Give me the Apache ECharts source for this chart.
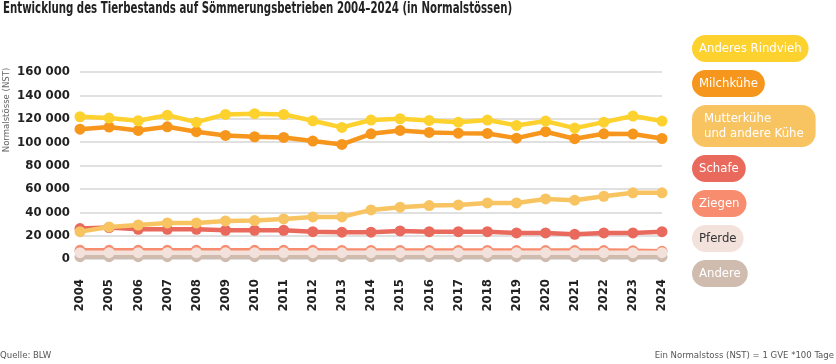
<!DOCTYPE html>
<html>
<head>
<meta charset="utf-8">
<script src="https://cdn.jsdelivr.net/npm/echarts@6/dist/echarts.min.js"></script>
<style>
html,body{margin:0;padding:0;background:#fff;}
#chart{width:836px;height:364px;}
</style>
</head>
<body>
<div id="chart"></div>
<script>
const years = ['2004','2005','2006','2007','2008','2009','2010','2011','2012','2013','2014','2015','2016','2017','2018','2019','2020','2021','2022','2023','2024'];
const anderesRindvieh = [121700,120600,118300,123100,117100,123700,124300,123700,118300,112600,118900,120000,118600,117100,118900,114300,118000,112000,117100,122300,118000];
const milchkuehe = [111100,112900,110000,113100,108900,105700,104600,104000,100900,98000,107100,110000,108300,107700,107400,103400,108900,102900,107100,106900,103100];
const mutterkuehe = [23400,27400,29100,30900,30900,32600,32900,34300,36000,36000,42000,44300,45700,46300,48000,48000,51400,50300,53700,56600,56600];
const schafe = [26000,26900,25400,25400,25400,24600,24600,24600,23400,22900,22900,24000,23400,23400,23400,22300,22300,21100,22300,22300,23400];
const ziegen = [7400,7400,7400,7400,7400,7400,7400,7400,7400,7300,7300,7300,7300,7300,7300,7200,7200,7200,7200,7100,6600];
const pferde = [5400,5400,5400,5400,5400,5400,5400,5400,5400,5400,5400,5400,5400,5400,5400,5400,5400,5400,5400,5400,5400];
const andere = [2000,2000,2000,2000,2000,2000,2000,2000,2000,2000,2000,2000,2000,2000,2000,2000,2000,2000,2000,2000,2000];
const yTicks = [0,20000,40000,60000,80000,100000,120000,140000,160000];

const seriesNames = ['Anderes Rindvieh','Milchkühe','Mutterkühe und andere Kühe','Schafe','Ziegen','Pferde','Andere'];
const seriesData = [anderesRindvieh, milchkuehe, mutterkuehe, schafe, ziegen, pferde, andere];
const colors = ['#fdd12e','#f7961c','#f8c462','#e96a5d','#f88c6e','#f3e1db','#cfbcaf'];
const legendTextColors = ['#fff','#fff','#fff','#fff','#fff','#333','#fff'];
const zOrder = [16,15,14,13,11,12,10];

const FONT = '"DejaVu Sans Condensed","DejaVu Sans",sans-serif';

const chart = echarts.init(document.getElementById('chart'), null, {renderer:'canvas'});

const series = seriesNames.map((n, i) => ({
  name: n,
  type: 'line',
  data: seriesData[i],
  symbol: 'circle',
  symbolSize: 11,
  showSymbol: true,
  lineStyle: {width: 4.5, color: colors[i]},
  itemStyle: {color: colors[i]},
  z: zOrder[i],
  animation: false
}));

const legendData = seriesNames.map((n, i) => ({
  name: n,
  icon: 'none',
  textStyle: {
    color: legendTextColors[i],
    backgroundColor: colors[i],
    borderRadius: 14,
    padding: i === 2 ? [6, 12, 6, 12] : [6, 7, 6, 7],
    fontSize: 13,
    lineHeight: 15,
    fontFamily: FONT
  }
}));

chart.setOption({
  animation: false,
  textStyle: {fontFamily: FONT},
  grid: {left: 80, right: 174, top: 72, bottom: 105, containLabel: false},
  legend: {
    orient: 'vertical',
    left: 682,
    top: 30,
    itemWidth: 0,
    itemHeight: 0,
    itemGap: 8,
    selectedMode: false,
    data: legendData,
    formatter: function (n) { return n === 'Mutterkühe und andere Kühe' ? 'Mutterkühe\nund andere Kühe' : n; }
  },
  xAxis: {
    type: 'category',
    data: years,
    boundaryGap: false,
    axisLine: {show: false},
    axisTick: {show: false},
    axisLabel: {rotate: 90, margin: 20, fontSize: 13, fontWeight: 'bold', color: '#222', fontFamily: FONT}
  },
  yAxis: {
    type: 'value',
    min: yTicks[0],
    max: yTicks[yTicks.length - 1],
    interval: yTicks[1] - yTicks[0],
    axisLine: {show: false},
    axisTick: {show: false},
    splitLine: {lineStyle: {color: '#d6d6d6', width: 1.5}},
    axisLabel: {
      margin: 10, fontSize: 13, fontWeight: 'bold', color: '#222', fontFamily: FONT,
      formatter: v => String(v).replace(/\B(?=(\d{3})+(?!\d))/g, ' ')
    }
  },
  graphic: [
    {type: 'text', x: 3, y: 2, scaleX: 0.757, style: {text: 'Entwicklung des Tierbestands auf Sömmerungsbetrieben 2004–2024 (in Normalstössen)', font: 'bold 15px ' + FONT, fill: '#222', align: 'left', verticalAlign: 'top'}},
    {type: 'text', x: 7, y: 110, rotation: Math.PI / 2, style: {text: 'Normalstösse (NST)', font: '9.5px ' + FONT, fill: '#666', align: 'center', verticalAlign: 'middle'}},
    {type: 'text', left: 0, top: 351, style: {text: 'Quelle: BLW', font: '9.5px ' + FONT, fill: '#555'}},
    {type: 'text', right: 2, top: 351, style: {text: 'Ein Normalstoss (NST) = 1 GVE *100 Tage', font: '9.5px ' + FONT, fill: '#555'}}
  ],
  series: series
});
</script>
</body>
</html>
